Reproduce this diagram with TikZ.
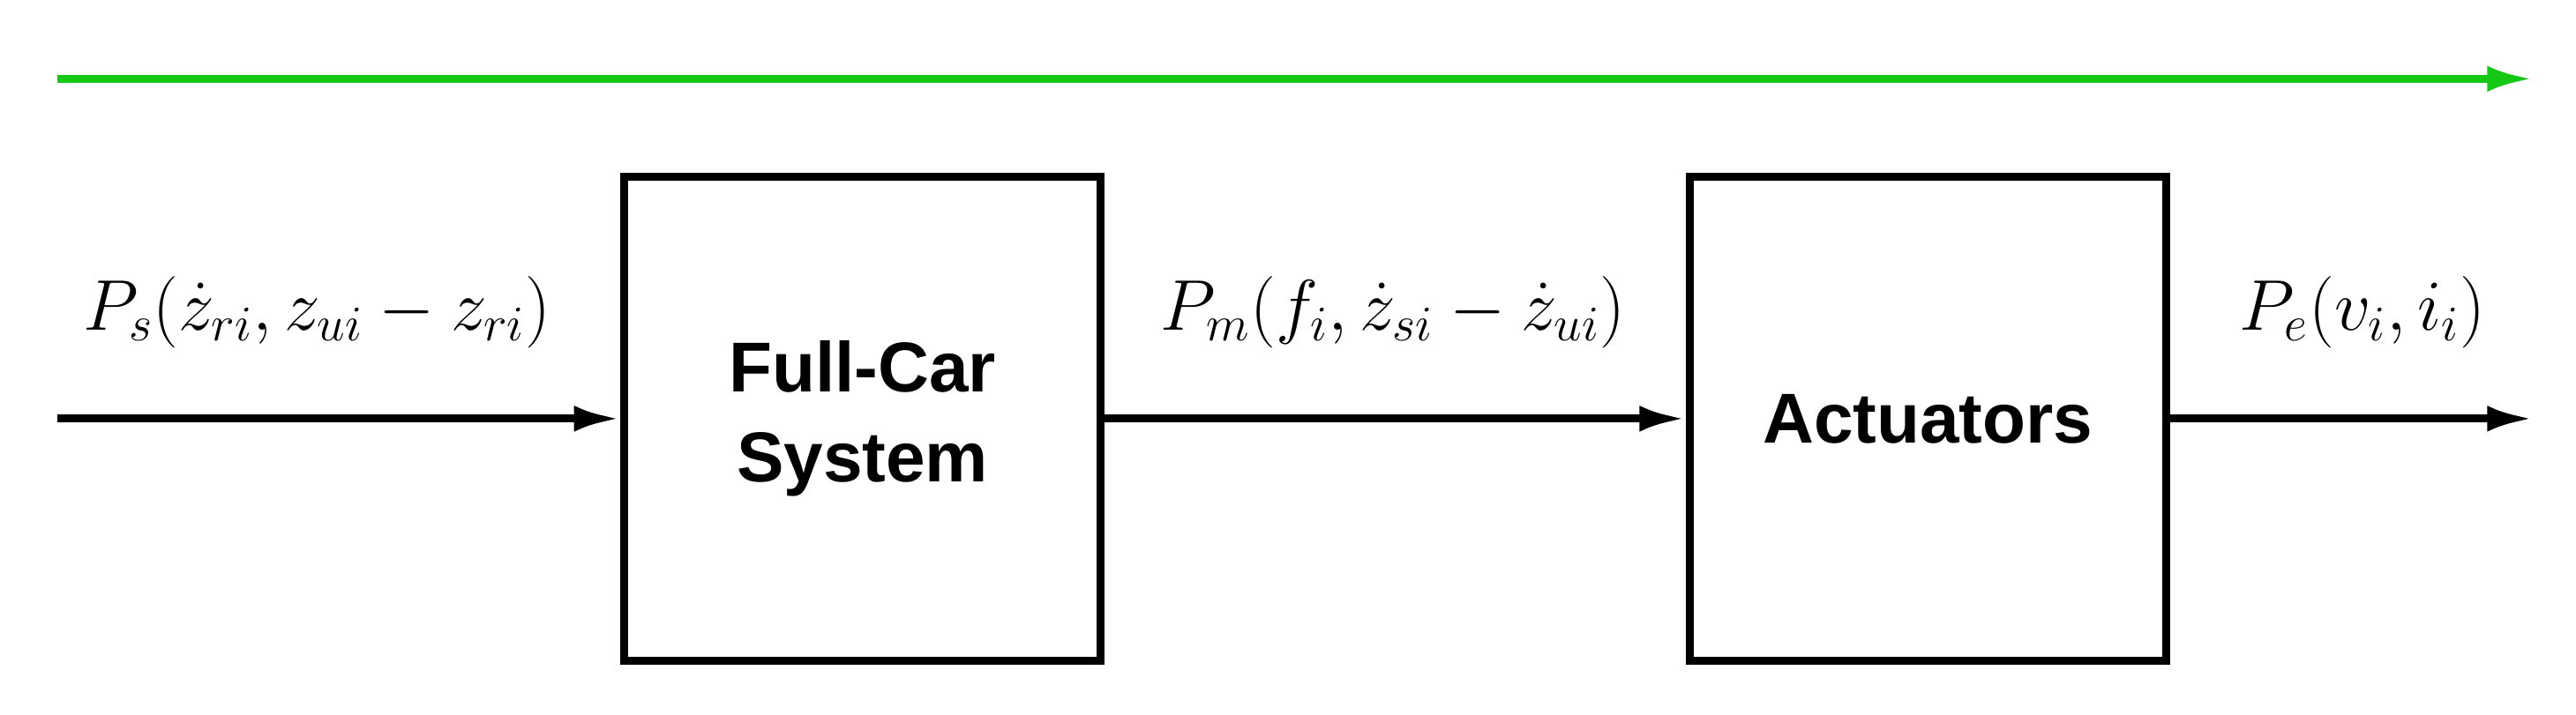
\documentclass[tikz,border=0pt]{standalone}
\usepackage{fontspec}
\newfontfamily\arialb{Liberation Sans}[BoldFont={* Bold}]
\usetikzlibrary{arrows.meta}
\definecolor{grn}{RGB}{20,200,20}
\begin{document}
\begin{tikzpicture}[x=0.02cm,y=-0.02cm,
  blk/.style={draw,line width=2.8pt,minimum width=5.9cm-2.8pt,minimum height=6cm-2.8pt,font=\arialb\bfseries\fontsize{24.5}{31}\selectfont,align=center},
  sig/.style={line width=2.8pt,-{Latex[length=16pt,width=9pt]}},
  lab/.style={font=\fontsize{27}{32}\selectfont}]
\useasboundingbox (0,0) rectangle (1568,435);
\coordinate (g0) at (35,48); \coordinate (g1) at (1542,48);
\draw[sig,grn] (g0) -- (g1);
\node[blk] (fc) at (525,255) {Full-Car\\System};
\node[blk] (ac) at (1173.5,255) {Actuators};
\coordinate (in) at (35,255); \coordinate (out) at (1542,255);
\draw[sig] (in) -- (fc.west);
\draw[sig] (fc.east) -- (ac.west);
\draw[sig] (ac.east) -- (out);
\node[lab] (l1) at (193,190) {$P_s(\dot z_{ri}, z_{ui}-z_{ri})$};
\node[lab] (l2) at (848,190) {$P_m(f_i, \dot z_{si}-\dot z_{ui})$};
\node[lab] (l3) at (1438,190) {$P_e(v_i, i_i)$};
\end{tikzpicture}
\end{document}
